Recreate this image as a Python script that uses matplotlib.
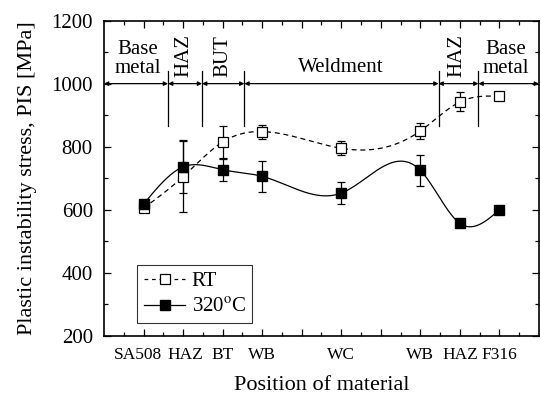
import numpy as np
import matplotlib
matplotlib.use("Agg")
import matplotlib.pyplot as plt
import matplotlib.transforms as mtransforms
from matplotlib.ticker import MultipleLocator, FixedLocator

plt.rcParams['font.family'] = ['Liberation Serif', 'DejaVu Serif']
plt.rcParams['mathtext.fontset'] = 'stix'

# ---- data ----
positions = [1, 2, 3, 4, 6, 8, 9, 10]
tick_labels = ["SA508", "HAZ", "BT", "WB", "", "WC", "", "WB", "HAZ", "F316"]
rt_values = [605, 705, 815, 848, 795, 850, 942, 960]
rt_errors = [8, 112, 50, 22, 22, 26, 30, 6]
hot_values = [618, 736, 727, 706, 653, 725, 557, 600]
hot_errors = [10, 84, 35, 49, 36, 50, 5, 5]

region_bounds = [1.62, 2.48, 3.55, 8.46, 9.47]
region_labels = ["Base\nmetal", "HAZ", "BUT", "Weldment", "HAZ", "Base\nmetal"]
region_label_x = [0.85, 2.02, 3.0, 6.0, 8.92, 10.15]
region_label_rot = [0, 90, 90, 0, 90, 0]


def natural_spline(x, y, xs):
    x = np.asarray(x, float)
    y = np.asarray(y, float)
    n = len(x)
    h = np.diff(x)
    A = np.zeros((n, n))
    b = np.zeros(n)
    A[0, 0] = 1
    A[-1, -1] = 1
    for i in range(1, n - 1):
        A[i, i - 1] = h[i - 1]
        A[i, i] = 2 * (h[i - 1] + h[i])
        A[i, i + 1] = h[i]
        b[i] = 3 * ((y[i + 1] - y[i]) / h[i] - (y[i] - y[i - 1]) / h[i - 1])
    c = np.linalg.solve(A, b)
    out = np.empty_like(xs)
    for k, xv in enumerate(xs):
        i = min(max(np.searchsorted(x, xv) - 1, 0), n - 2)
        dx = xv - x[i]
        bi = (y[i + 1] - y[i]) / h[i] - h[i] * (2 * c[i] + c[i + 1]) / 3
        di = (c[i + 1] - c[i]) / (3 * h[i])
        out[k] = y[i] + bi * dx + c[i] * dx ** 2 + di * dx ** 3
    return out


fig = plt.figure(figsize=(5.41, 3.95), dpi=100)
ax = fig.add_axes([0.1922, 0.1494, 0.8041, 0.7986])

xs = np.linspace(positions[0], positions[-1], 400)
ax.plot(xs, natural_spline(positions, rt_values, xs), color='black', lw=0.9,
        dashes=(4, 3))
ax.plot(xs, natural_spline(positions, hot_values, xs), color='black', lw=0.9)

ax.errorbar(positions, rt_values, yerr=rt_errors, fmt='none', ecolor='black',
            elinewidth=0.9, capsize=3, capthick=0.9)
ax.errorbar(positions, hot_values, yerr=hot_errors, fmt='none', ecolor='black',
            elinewidth=0.9, capsize=3, capthick=0.9)
ax.plot(positions, rt_values, 's', ms=7, mfc='white', mec='black', mew=0.9,
        zorder=5)
ax.plot(positions, hot_values, 's', ms=7.5, mfc='black', mec='black', zorder=5)

# legend proxies
h1, = ax.plot([], [], color='black', lw=0.9, dashes=(3, 3), marker='s', ms=7,
              mfc='white', mec='black', mew=0.9)
h2, = ax.plot([], [], color='black', lw=0.9, marker='s', ms=7.5, mfc='black')
leg = ax.legend([h1, h2], ["RT", "320$^{\\rm o}$C"], loc='lower left',
                bbox_to_anchor=(0.077, 0.041), borderaxespad=0, fontsize=15,
                frameon=True, fancybox=False, edgecolor='black',
                handlelength=2.0, handletextpad=0.3, borderpad=0.3,
                labelspacing=0.3)
leg.get_frame().set_linewidth(0.8)

# region markers
for xb in region_bounds:
    ax.plot([xb, xb], [865, 1040], color='black', lw=0.9)
edges = [0] + region_bounds + [11]
for a, b2 in zip(edges[:-1], edges[1:]):
    ax.annotate('', xy=(a, 1000), xytext=(b2, 1000),
                arrowprops=dict(arrowstyle='<|-|>', color='black', lw=0.9,
                                mutation_scale=6, shrinkA=0, shrinkB=0))
for lx, lab, rot in zip(region_label_x, region_labels, region_label_rot):
    if rot == 90:
        ax.text(lx, 1020, lab, rotation=90, ha='center', va='bottom',
                fontsize=15)
    elif lab == "Weldment":
        ax.text(lx, 1020, lab, ha='center', va='bottom', fontsize=15)
    else:
        ax.text(lx, 1017, lab, ha='center', va='bottom', fontsize=15,
                linespacing=1.0)

ax.set_xlim(0, 11)
ax.set_ylim(200, 1200)
ax.xaxis.set_major_locator(FixedLocator(list(range(1, 11))))
ax.set_xticklabels(tick_labels)
ax.xaxis.set_minor_locator(FixedLocator([i + 0.5 for i in range(11)]))
ax.yaxis.set_major_locator(MultipleLocator(200))
ax.yaxis.set_minor_locator(MultipleLocator(100))
ax.tick_params(which='both', direction='in', top=True, right=True,
               width=0.9)
ax.tick_params(which='major', length=5)
ax.tick_params(which='minor', length=3)
ax.tick_params(axis='y', labelsize=15, pad=8)
ax.tick_params(axis='x', labelsize=12.5, pad=8)
xlabels = ax.get_xticklabels()
xlabels[0].set_transform(xlabels[0].get_transform() +
                         mtransforms.ScaledTranslation(-0.06, 0, fig.dpi_scale_trans))
xlabels[1].set_transform(xlabels[1].get_transform() +
                         mtransforms.ScaledTranslation(0.02, 0, fig.dpi_scale_trans))
for s in ax.spines.values():
    s.set_linewidth(1.2)

ax.set_xlabel("Position of material", fontsize=16, labelpad=9)
ax.set_ylabel("Plastic instability stress, PIS [MPa]", fontsize=16,
              labelpad=10)

fig.savefig("out.png", dpi=100)
